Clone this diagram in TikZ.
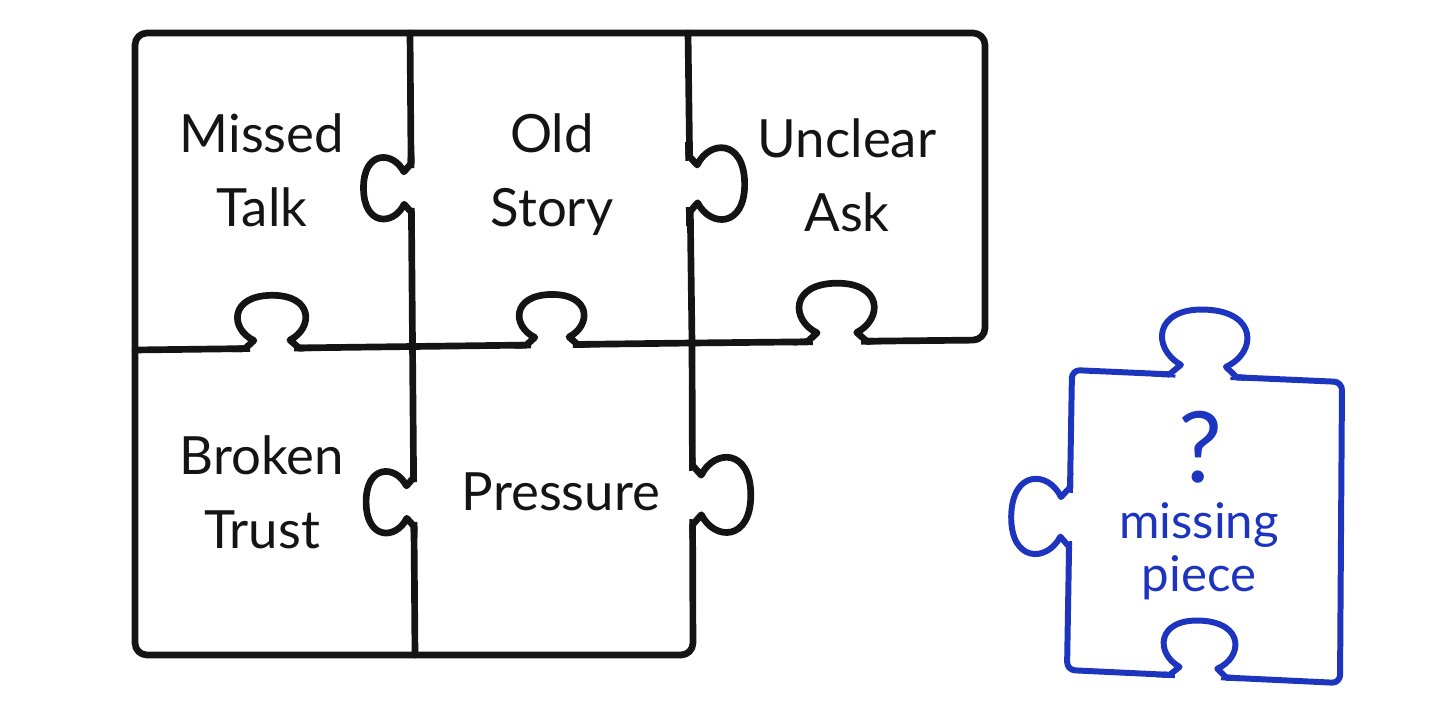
\documentclass[tikz,border=0pt]{standalone}
\usepackage{fontspec}
\setmainfont{Lato}
\definecolor{inkblack}{RGB}{20,20,20}
\definecolor{inkblue}{RGB}{28,52,190}

\begin{document}
\begin{tikzpicture}[
x=0.1mm, y=-0.1mm,
color=inkblack,
line width=1.9pt, line cap=round, line join=round,
edge/.style={draw, rounded corners=1.2mm},
word/.style={align=center, text=inkblack, font=\fontsize{15}{21}\selectfont},
blueword/.style={align=center, text=inkblue, font=\fontsize{14}{15}\selectfont},
tab/.pic={
  \fill[white] (-27,6) -- (-27,0) -- (-18,-8) .. controls (-42,-20) and (-42,-53) .. (0,-53)
    .. controls (42,-53) and (42,-20) .. (18,-8) -- (27,0) -- (27,6) -- cycle;
  \begin{scope}
    \clip (-40,0) rectangle (-22,9) (22,0) rectangle (40,9);
    \draw (-40,0) -- (40,0);
  \end{scope}
  \draw (-33,0) -- (-27,0) -- (-18,-8) .. controls (-42,-20) and (-42,-53) .. (0,-53)
    .. controls (42,-53) and (42,-20) .. (18,-8) -- (27,0) -- (33,0);
}
]
\useasboundingbox (0,0) rectangle (1448,713);

% the five pieces
\draw[edge] (692,343) -- (985,340) -- (985,33) -- (135,33) -- (135,655) -- (693,655) -- (692,343);
\draw (135,350) -- (692,343);
\draw (410,33) -- (415,655);
\draw (688,33) -- (692,343);

\pic[rotate=90.5, scale=0.9] at (411.2,188) {tab};
\pic[rotate=-89.3, scale=1.05] at (689,184) {tab};
\pic[rotate=0.7, scale=1.0] at (272,348.3) {tab};
\pic[rotate=0.7, scale=0.95] at (552,344.8) {tab};
\pic[rotate=0.6, scale=1.1] at (837,341.5) {tab};
\pic[rotate=90.5, scale=0.9] at (413.8,502) {tab};
\pic[rotate=-89.8, scale=1.1] at (692.5,495) {tab};

\node[word] (t1) at (262,170) {Missed\\Talk};
\node[word] (t2) at (552,175) {Old\\Story};
\node[word] (t3) at (847,175) {Unclear\\Ask};
\node[word] (t4) at (262,492) {Broken\\Trust};
\node[word] (t5) at (561,492) {Pressure};

% the missing piece
\begin{scope}[line width=1.7pt]
\draw[inkblue, rounded corners=0.8mm] (1072,370) -- (1342,382) -- (1340,683) -- (1067,670) -- cycle;
\pic[color=inkblue, rotate=-2.5, scale=1.25] at (1203,375.8) {tab};
\pic[color=inkblue, rotate=89, scale=1.1] at (1069.5,517) {tab};
\pic[color=inkblue, rotate=-2.7, scale=1.05] at (1198,676.2) {tab};
\end{scope}

\node[blueword, font=\fontsize{28}{28}\selectfont] (q) at (1200,447) {?};
\node[blueword] (m) at (1199,551) {missing\\piece};
\end{tikzpicture}
\end{document}
